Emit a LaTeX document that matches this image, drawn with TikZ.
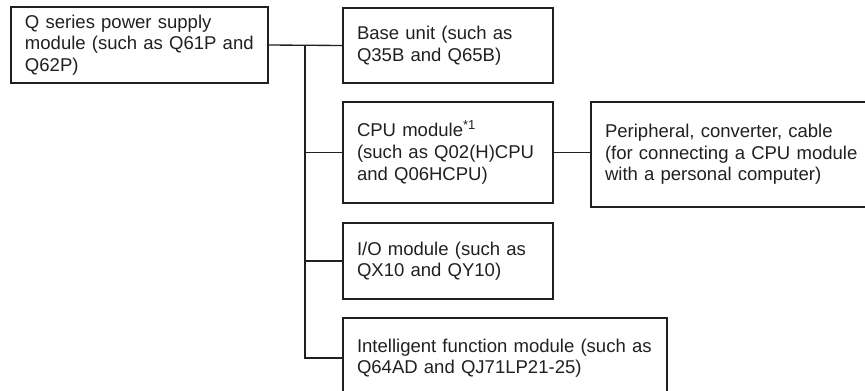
\documentclass[tikz,border=0pt]{standalone}
\usepackage{fontspec}
\setmainfont{Liberation Sans}
\definecolor{ink}{HTML}{231F20}
\begin{document}
\begin{tikzpicture}[x=0.75pt,y=-0.75pt,
  box/.style={draw=ink,line width=1pt,rectangle,anchor=north west,outer sep=0pt,
    inner xsep=10.5pt,inner ysep=0pt,align=left,text=ink,
    font=\fontsize{13.9pt}{16.2pt}\selectfont},
  wire/.style={draw=ink,line width=1pt}]
\useasboundingbox (0,0) rectangle (865,390);
\clip (0,0) rectangle (865,390);
\node[box,minimum width=192.75pt,minimum height=57pt,text width=171.75pt] (pow) at (11,7)
  {Q series power supply\\module (such as Q61P and\\Q62P)};
\node[box,minimum width=157.5pt,minimum height=56.25pt,text width=136.5pt] (base) at (343,8)
  {Base unit (such as\\Q35B and Q65B)};
\node[box,minimum width=157.5pt,minimum height=75.75pt,text width=136.5pt] (cpu) at (343,102)
  {CPU module\textsuperscript{*1}\\(such as Q02(H)CPU\\and Q06HCPU)};
\node[box,minimum width=217.5pt,minimum height=78.75pt,text width=196.5pt] (per) at (591,102)
  {Peripheral, converter, cable\\(for connecting a CPU module\\with a personal computer)};
\node[box,minimum width=157.5pt,minimum height=57pt,text width=136.5pt] (io) at (343,223)
  {I/O module (such as\\QX10 and QY10)};
\node[box,minimum width=243pt,minimum height=60pt,text width=222pt] (intel) at (343,318)
  {Intelligent function module (such as\\Q64AD and QJ71LP21-25)};
\coordinate (bus) at (305,45);
\draw[wire] (pow.east) -- (base.west);
\draw[wire] (bus) -- (bus |- intel.west) -- (intel.west);
\draw[wire] (bus |- cpu.west) -- (cpu.west);
\draw[wire] (bus |- io.west) -- (io.west);
\draw[wire] (cpu.east) -- (cpu.east -| per.west);
\end{tikzpicture}
\end{document}
